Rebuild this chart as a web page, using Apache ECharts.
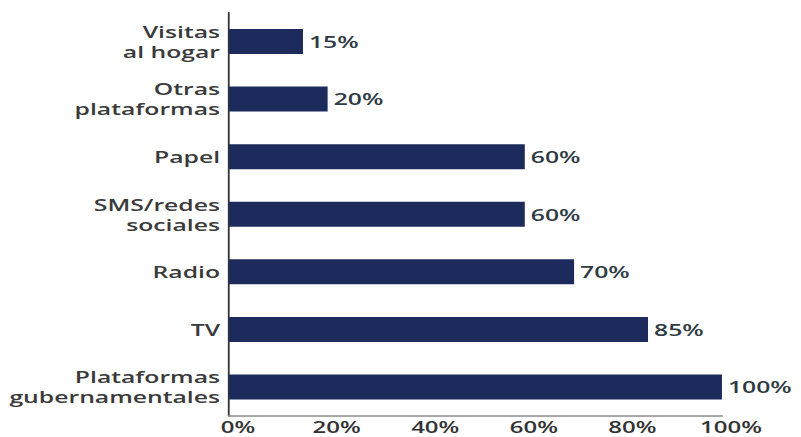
<!DOCTYPE html>
<html><head><meta charset="utf-8">
<script src="https://cdn.jsdelivr.net/npm/echarts@6/dist/echarts.min.js"></script>
<style>
html,body{margin:0;padding:0;background:#fff;overflow:hidden;width:801px;height:437px}
#wrap{width:801px;height:437px;overflow:hidden;position:relative}
#chart{width:534px;height:437px;transform:scaleX(1.5);transform-origin:0 0}
</style>
</head><body><div id="wrap"><div id="chart"></div></div>
<script>
const categories = ['Visitas\nal hogar', 'Otras\nplataformas', 'Papel', 'SMS/redes\nsociales', 'Radio', 'TV', 'Plataformas\ngubernamentales'];
const values = [15, 20, 60, 60, 70, 85, 100];
const tickLabels = ['0%', '20%', '40%', '60%', '80%', '100%'];

const FONT = '"Open Sans", "DejaVu Sans", sans-serif';
const chart = echarts.init(document.getElementById('chart'), null, {renderer: 'svg'});
chart.setOption({
  animation: false,
  backgroundColor: '#ffffff',
  grid: {left: 152.7, right: 52.7, top: 12.7, bottom: 21.2, containLabel: false},
  xAxis: {
    type: 'value', min: 0, max: 100, interval: 20,
    axisLine: {show: true, lineStyle: {color: '#8a8a8a', width: 1.5}},
    axisTick: {show: false},
    splitLine: {show: false},
    axisLabel: {
      margin: 3, padding: [0, 0, 0, 12], lineHeight: 16,
      color: '#333333', fontFamily: FONT, fontWeight: 600, fontSize: 16,
      formatter: function (v) { return tickLabels[Math.round(v / 20)]; }
    }
  },
  yAxis: {
    type: 'category', inverse: true, data: categories,
    axisLine: {show: true, lineStyle: {color: '#333333', width: 1.2}},
    axisTick: {show: false},
    axisLabel: {
      margin: 6, color: '#3a3a3a', fontFamily: FONT, fontWeight: 600, fontSize: 16.5,
      lineHeight: 20, align: 'right'
    }
  },
  series: [{
    type: 'bar', data: values, barWidth: 25,
    itemStyle: {color: '#1d2a5c'},
    label: {
      show: true, position: 'right', distance: 4,
      formatter: '{c}%', color: '#2f3b44', fontFamily: FONT, fontWeight: 600, fontSize: 16.5
    }
  }]
});
</script></body></html>
